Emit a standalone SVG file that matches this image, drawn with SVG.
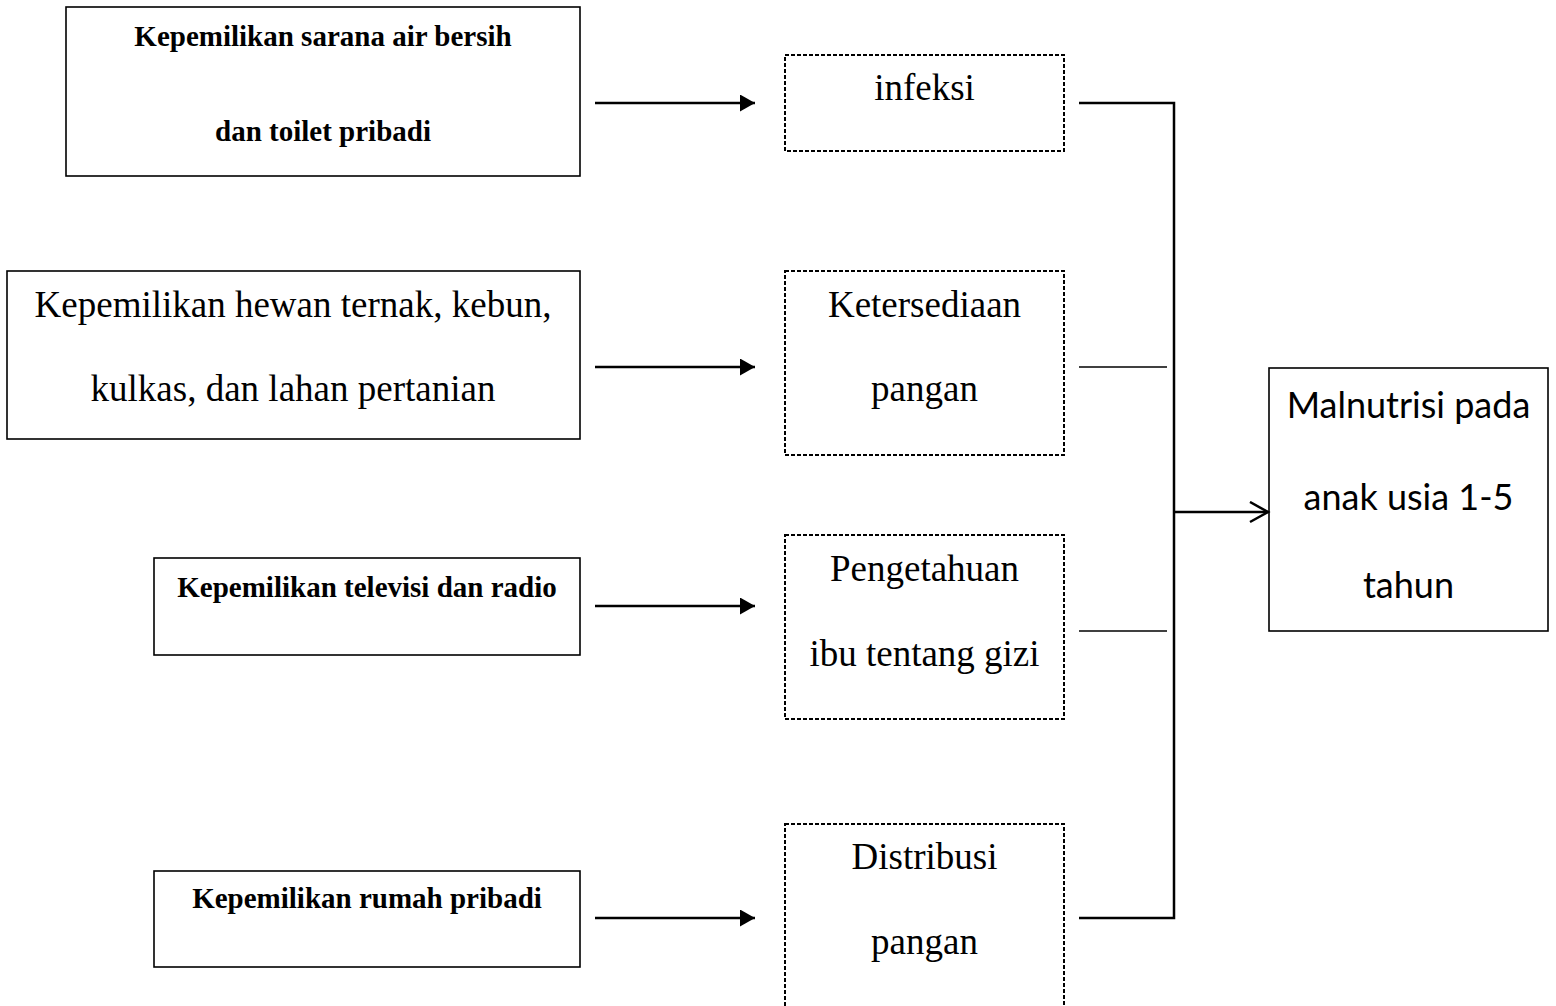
<svg xmlns="http://www.w3.org/2000/svg" width="1556" height="1006" viewBox="0 0 1556 1006">
<style>
.box{fill:#fff;stroke:#000;stroke-width:1.6}
.dbox{fill:#fff;stroke:#000;stroke-width:2;stroke-dasharray:4 2}
.b{font-family:"Liberation Serif","Times New Roman",serif;font-weight:bold;font-size:29px;text-anchor:middle;fill:#000}
.r{font-family:"Liberation Serif","Times New Roman",serif;font-size:37px;text-anchor:middle;fill:#000}
.c{font-family:Lato,"Open Sans",sans-serif;font-size:36px;text-anchor:middle;fill:#000}
.ln{fill:none;stroke:#000;stroke-width:2.5}
</style>
<defs>
<marker id="tri" markerWidth="16" markerHeight="18" refX="15" refY="8.5" orient="auto" markerUnits="userSpaceOnUse">
<path d="M0,0 L15,8.5 L0,17 Z" fill="#000"/>
</marker>
<marker id="open" markerWidth="22" markerHeight="24" refX="19" refY="11" orient="auto" markerUnits="userSpaceOnUse">
<path d="M1,1 L19,11 L1,21" fill="none" stroke="#000" stroke-width="2.5"/>
</marker>
</defs>

<g id="node-air">
<rect class="box" x="66" y="7" width="514" height="169"/>
<text class="b" x="323" y="46">Kepemilikan sarana air bersih</text>
<text class="b" x="323" y="141">dan toilet pribadi</text>
</g>
<g id="node-ternak">
<rect class="box" x="7" y="271" width="573" height="168"/>
<text class="r" x="293" y="317">Kepemilikan hewan ternak, kebun,</text>
<text class="r" x="293" y="401">kulkas, dan lahan pertanian</text>
</g>
<g id="node-tv">
<rect class="box" x="154" y="558" width="426" height="97"/>
<text class="b" x="367" y="597">Kepemilikan televisi dan radio</text>
</g>
<g id="node-rumah">
<rect class="box" x="154" y="871" width="426" height="96"/>
<text class="b" x="367" y="908">Kepemilikan rumah pribadi</text>
</g>

<g id="node-infeksi">
<rect class="dbox" x="785" y="55" width="279" height="96"/>
<text class="r" x="924.5" y="100">infeksi</text>
</g>
<g id="node-ketersediaan">
<rect class="dbox" x="785" y="271" width="279" height="184"/>
<text class="r" x="924.5" y="317">Ketersediaan</text>
<text class="r" x="924.5" y="401">pangan</text>
</g>
<g id="node-pengetahuan">
<rect class="dbox" x="785" y="535" width="279" height="184"/>
<text class="r" x="924.5" y="581">Pengetahuan</text>
<text class="r" x="924.5" y="666">ibu tentang gizi</text>
</g>
<g id="node-distribusi">
<rect class="dbox" x="785" y="824" width="279" height="190"/>
<text class="r" x="924.5" y="869">Distribusi</text>
<text class="r" x="924.5" y="954">pangan</text>
</g>

<g id="node-malnutrisi">
<rect class="box" x="1269" y="368" width="279" height="263"/>
<text class="c" x="1408.5" y="418">Malnutrisi pada</text>
<text class="c" x="1408.5" y="510">anak usia 1-5</text>
<text class="c" x="1408.5" y="598">tahun</text>
</g>

<g id="connectors">
<line class="ln" x1="595" y1="103" x2="755" y2="103" marker-end="url(#tri)"/>
<line class="ln" x1="595" y1="367" x2="755" y2="367" marker-end="url(#tri)"/>
<line class="ln" x1="595" y1="606" x2="755" y2="606" marker-end="url(#tri)"/>
<line class="ln" x1="595" y1="918" x2="755" y2="918" marker-end="url(#tri)"/>
<path class="ln" d="M1079,103 H1174 V918 H1079"/>
<line x1="1079" y1="367" x2="1167" y2="367" stroke="#000" stroke-width="1.5"/>
<line x1="1079" y1="631" x2="1167" y2="631" stroke="#000" stroke-width="1.5"/>
<line class="ln" x1="1174" y1="512" x2="1268" y2="512" marker-end="url(#open)"/>
</g>
</svg>
